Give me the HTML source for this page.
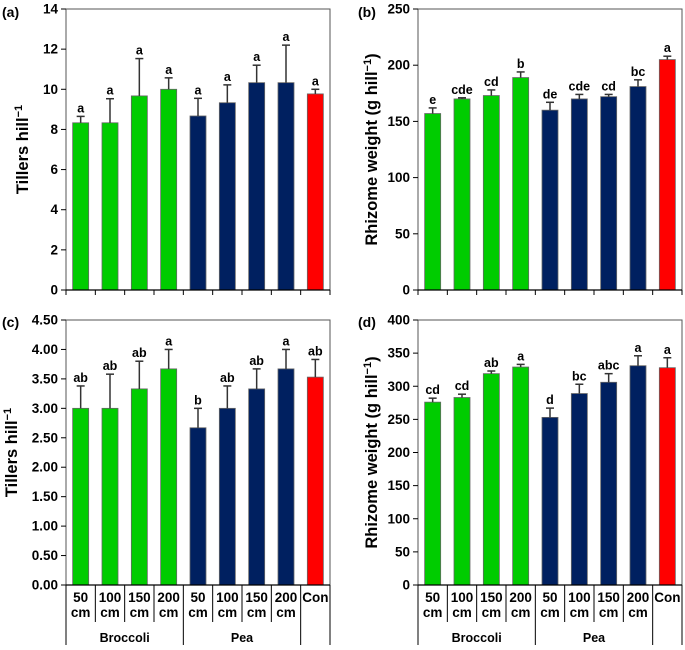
<!DOCTYPE html>
<html><head><meta charset="utf-8"><style>
body{margin:0;background:#fff;width:685px;height:645px;overflow:hidden}
svg text{font-family:"Liberation Sans",Arial,sans-serif;font-weight:bold}
</style></head><body>
<svg id="s" width="685" height="645" viewBox="0 0 685 645"></svg>
<script>
const categories=["50 cm","100 cm","150 cm","200 cm","50 cm","100 cm","150 cm","200 cm","Con"];
const aValues=[8.33,8.33,9.67,10,8.67,9.33,10.33,10.33,9.77];
const aErr=[0.32,1.2,1.86,0.57,0.88,0.89,0.87,1.87,0.23];
const aLetters=["a","a","a","a","a","a","a","a","a"];
const aTicks=["0","2","4","6","8","10","12","14"];
const bValues=[157,170,173,189,160,170,172,181,205];
const bErr=[5,1,5,5,7,4,2,6,3];
const bLetters=["e","cde","cd","b","de","cde","cd","bc","a"];
const bTicks=["0","50","100","150","200","250"];
const cValues=[3.0,3.0,3.33,3.67,2.67,3.0,3.33,3.67,3.53];
const cErr=[0.38,0.58,0.47,0.33,0.33,0.38,0.34,0.33,0.3];
const cLetters=["ab","ab","ab","a","b","ab","ab","a","ab"];
const cTicks=["0.00","0.50","1.00","1.50","2.00","2.50","3.00","3.50","4.00","4.50"];
const dValues=[276,283,319,329,253,289,306,331,328];
const dErr=[6,5,4,4,14,14,13,15,15];
const dLetters=["cd","cd","ab","a","d","bc","abc","a","a"];
const dTicks=["0","50","100","150","200","250","300","350","400"];
const colors=["#00cc00","#00cc00","#00cc00","#00cc00","#002060","#002060","#002060","#002060","#ff0000"];
const S=document.getElementById('s');const NS="http://www.w3.org/2000/svg";
function mk(t,at,txt,p){const e=document.createElementNS(NS,t);for(const k in at)e.setAttribute(k,at[k]);if(txt!=null)e.textContent=txt;(p||S).appendChild(e);return e;}
function panel(id,L,T,R,B,vals,err,lets,ticks,ytitle,tag,ytx,labels){
 const g=mk('g',{});
 
 
 const max=parseFloat(ticks[ticks.length-1]);
 const y=v=>B-(v/max)*(B-T);
 const n=vals.length,slot=(R-L)/n,x=i=>L+slot*i;
 mk('rect',{x:L,y:T,width:R-L,height:B-T,fill:'none',stroke:'#555','stroke-width':1},null,g);
 ticks.forEach((t,i)=>{const v=parseFloat(t),yy=y(v);
  mk('line',{x1:L-5,x2:L,y1:yy,y2:yy,stroke:'#000'},null,g);
  const tx=mk('text',{x:L-8,y:yy+4.5,'text-anchor':'end','font-size':13.5},t,g);
  
  });
 vals.forEach((v,i)=>{const cx=x(i)+slot/2,w=16;
  const r=mk('rect',{x:cx-w/2,y:y(v),width:w,height:B-y(v),fill:colors[i],stroke:'#666','stroke-width':0.8},null,g);
  
  
  const top=y(v+err[i]);
  mk('line',{x1:cx,x2:cx,y1:y(v),y2:top,stroke:'#333','stroke-width':1.5},null,g);
  mk('line',{x1:cx-4,x2:cx+4,y1:top,y2:top,stroke:'#333','stroke-width':1.5},null,g);
  const lt=mk('text',{x:cx,y:top-4,'text-anchor':'middle','font-size':12.5},lets[i],g);
  
  });
 mk('line',{x1:L,x2:R,y1:B,y2:B,stroke:'#000','stroke-width':1.2},null,g);
 if(!labels){for(let i=0;i<=n;i++)mk('line',{x1:x(i),x2:x(i),y1:B,y2:B+5,stroke:'#000'},null,g);}
 else{
  for(let i=0;i<=n;i++){const yb=(i==0||i==4||i==8||i==9)?645:622;mk('line',{x1:x(i),x2:x(i),y1:B,y2:yb,stroke:'#000'},null,g);}
  categories.forEach((c,i)=>{const cx=x(i)+slot/2,p=c.split(' ');
   const t=mk('text',{x:cx,y:B+17,'text-anchor':'middle','font-size':13.5},p[0],g);
   
   
   if(p[1])mk('text',{x:cx,y:B+32,'text-anchor':'middle','font-size':13.5},p[1],g);});
  const g1=mk('text',{x:x(2),y:642,'text-anchor':'middle','font-size':12.5},'Broccoli',g);
  
  
  const g2=mk('text',{x:x(6),y:642,'text-anchor':'middle','font-size':12.5},'Pea',g);
  
  }
 const cy=(T+B)/2;
 const yt=mk('text',{x:ytx,y:cy,'text-anchor':'middle','font-size':16.5,transform:`rotate(-90 ${ytx} ${cy})`},null,g);
 
 
 yt.innerHTML=ytitle;
 const pt=mk('text',{x:tag[0],y:tag[1],'font-size':14},'('+id+')',g);
 
 
}
const tT='Tillers hill<tspan font-size="11" dy="-6">−1</tspan>';
const rT='Rhizome weight (g hill<tspan font-size="11" dy="-6">−1</tspan><tspan dy="6">)</tspan>';
panel('a',66,9,330,290,aValues,aErr,aLetters,aTicks,tT,[2,17],28,false);
panel('b',418,9,682,290,bValues,bErr,bLetters,bTicks,rT,[358,17],377,false);
panel('c',66,320,330,585,cValues,cErr,cLetters,cTicks,tT,[2,327],17,true);
panel('d',418,320,682,585,dValues,dErr,dLetters,dTicks,rT,[358,327],377,true);
</script>
</body></html>
